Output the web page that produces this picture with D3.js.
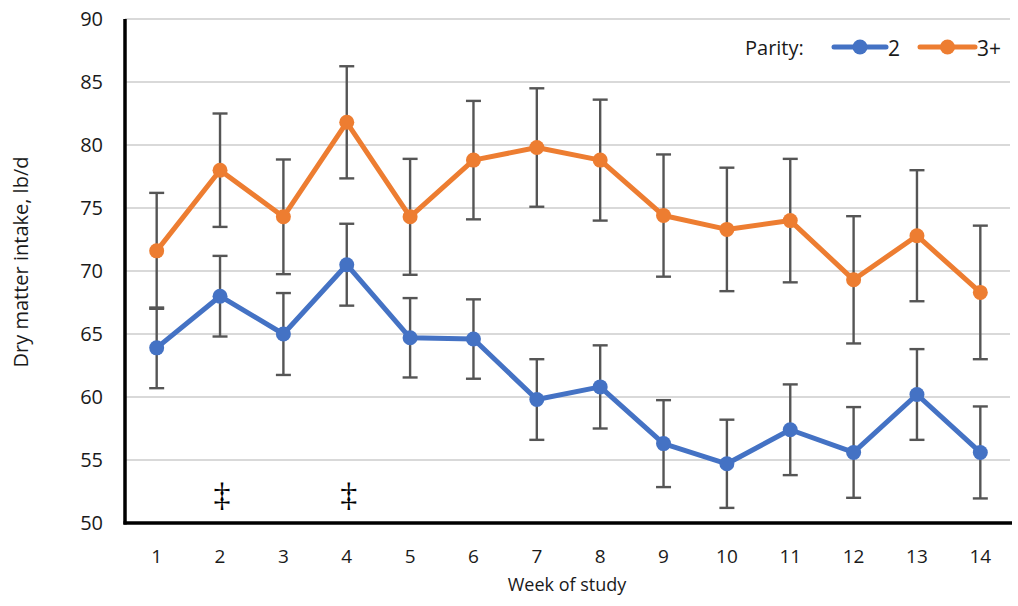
<!DOCTYPE html>
<html><head><meta charset="utf-8">
<script src="https://cdn.jsdelivr.net/npm/d3@7"></script>
<style>body{margin:0;background:#fff;} svg{display:block;font-family:"Open Sans","Noto Sans",sans-serif;}</style>
</head><body>
<svg id="chart" width="1018" height="606"></svg>
<script>
const weeks = [1,2,3,4,5,6,7,8,9,10,11,12,13,14];
const parity2 = [63.9,68.0,65.0,70.5,64.7,64.6,59.8,60.8,56.3,54.7,57.4,55.6,60.2,55.6];
const parity2Err = [3.2,3.2,3.25,3.25,3.15,3.15,3.2,3.3,3.45,3.5,3.6,3.6,3.6,3.65];
const parity3 = [71.6,78.0,74.3,81.8,74.3,78.8,79.8,78.8,74.4,73.3,74.0,69.3,72.8,68.3];
const parity3Err = [4.6,4.5,4.55,4.45,4.6,4.7,4.7,4.8,4.85,4.9,4.9,5.05,5.2,5.3];
const yTicks = [50,55,60,65,70,75,80,85,90];
const markWeeks = [2,4];
const seriesNames = ["2","3+"];
const colors = ["#4472C4","#ED7D31"];

const svg = d3.select("#chart");
const L=125, R=1012, T=19, B=523;
const x = d3.scaleBand().domain(weeks).range([L,R]);
const y = d3.scaleLinear().domain([50,90]).range([B,T]);
const cx = d => x(d)+x.bandwidth()/2;

// gridlines
svg.append("g").selectAll("line").data(yTicks.filter(t=>t>50)).join("line")
  .attr("x1",L).attr("x2",R-2).attr("y1",d=>y(d)).attr("y2",d=>y(d))
  .attr("stroke","#d9d9d9").attr("stroke-width",2);

// y axis
const yAxis = svg.append("g").attr("transform",`translate(${L},0)`)
  .call(d3.axisLeft(y).tickValues(yTicks).tickSize(0).tickPadding(22));
yAxis.select(".domain").remove();
yAxis.selectAll("text").attr("font-size",20).attr("fill","#1a1a1a").attr("font-family","'Open Sans',sans-serif");

// x axis
const xAxis = svg.append("g").attr("transform",`translate(0,${B})`)
  .call(d3.axisBottom(x).tickSize(0).tickPadding(27));
xAxis.select(".domain").remove();
xAxis.selectAll("text").attr("font-size",19).attr("fill","#1a1a1a").attr("font-family","'Open Sans',sans-serif");

// axis lines
svg.append("line").attr("x1",L).attr("x2",L).attr("y1",T).attr("y2",B+1.5).attr("stroke","#000").attr("stroke-width",3.5);
svg.append("line").attr("x1",L-1.5).attr("x2",R).attr("y1",B).attr("y2",B).attr("stroke","#000").attr("stroke-width",3.5);

const series = [
  {vals:parity2, err:parity2Err, color:colors[0]},
  {vals:parity3, err:parity3Err, color:colors[1]}
];

// error bars
series.forEach(s=>{
  const g = svg.append("g").attr("stroke","#555").attr("stroke-width",2.4);
  weeks.forEach((w,i)=>{
    const v=s.vals[i], e=s.err[i];
    g.append("line").attr("x1",cx(w)).attr("x2",cx(w)).attr("y1",y(v+e)).attr("y2",y(v-e));
    g.append("line").attr("x1",cx(w)-7.5).attr("x2",cx(w)+7.5).attr("y1",y(v+e)).attr("y2",y(v+e));
    g.append("line").attr("x1",cx(w)-7.5).attr("x2",cx(w)+7.5).attr("y1",y(v-e)).attr("y2",y(v-e));
  });
});

// lines & markers
series.forEach(s=>{
  const line = d3.line().x((d,i)=>cx(weeks[i])).y(d=>y(d));
  svg.append("path").datum(s.vals).attr("d",line).attr("fill","none")
    .attr("stroke",s.color).attr("stroke-width",5).attr("stroke-linejoin","round");
  svg.append("g").selectAll("circle").data(s.vals).join("circle")
    .attr("cx",(d,i)=>cx(weeks[i])).attr("cy",d=>y(d)).attr("r",7.5).attr("fill",s.color);
});

// significance marks
svg.append("g").selectAll("text").data(markWeeks).join("text")
  .attr("x",d=>cx(d)+2).attr("y",506).attr("text-anchor","middle")
  .attr("font-size",34).attr("fill","#000").attr("font-family","'Liberation Serif',serif").text("‡");

// axis titles
svg.append("text").attr("x",567).attr("y",591).attr("text-anchor","middle")
  .attr("font-size",18).attr("fill","#1a1a1a").text("Week of study");
svg.append("text").attr("transform","translate(28,262) rotate(-90)").attr("text-anchor","middle")
  .attr("font-size",20).attr("fill","#1a1a1a").text("Dry matter intake, lb/d");

// legend
svg.append("text").attr("x",745).attr("y",55).attr("font-size",20).attr("fill","#1a1a1a").text("Parity:");
const leg = [{x1:834,x2:886,tx:888},{x1:920,x2:975,tx:977}];
leg.forEach((l,i)=>{
  svg.append("line").attr("x1",l.x1).attr("x2",l.x2).attr("y1",47).attr("y2",47)
    .attr("stroke",colors[i]).attr("stroke-width",5).attr("stroke-linecap","round");
  svg.append("circle").attr("cx",(l.x1+l.x2)/2).attr("cy",47).attr("r",7.5).attr("fill",colors[i]);
  svg.append("text").attr("x",l.tx).attr("y",56).attr("font-size",21).attr("fill","#1a1a1a").text(seriesNames[i]);
});
</script>
</body></html>
